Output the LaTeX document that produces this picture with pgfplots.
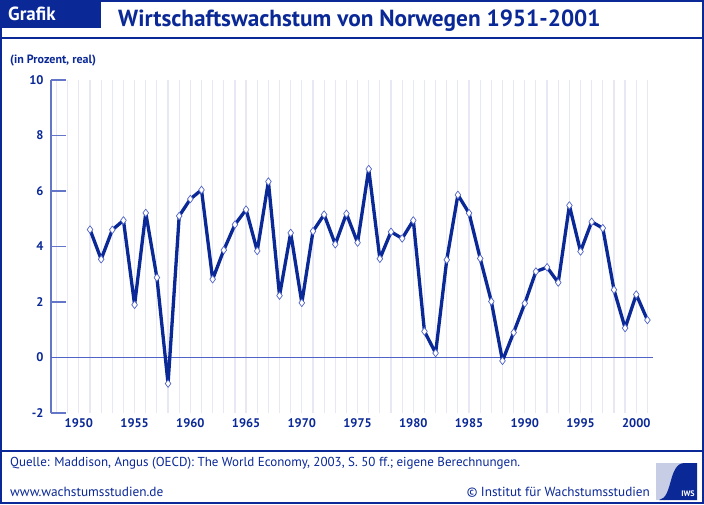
\documentclass[border=0pt]{standalone}
\usepackage{pgfplots}
\pgfplotsset{compat=1.18}
\usepackage{fontspec}
\setmainfont{PT Sans}
\definecolor{dblue}{RGB}{10,40,150}
\definecolor{axblue}{RGB}{100,118,200}
\definecolor{gridc}{RGB}{232,232,245}
\definecolor{zeroc}{RGB}{80,100,200}
\definecolor{logobg}{RGB}{200,205,230}
\begin{document}
\begin{tikzpicture}[x=1pt,y=1pt]
\path[use as bounding box] (0,0) rectangle (704,504);
\fill[white] (0,0) rectangle (704,504);
\begin{axis}[at={(51pt,91pt)}, anchor=south west, scale only axis,
  width=602pt, height=333pt,
  xmin=1947.5, xmax=2001.5, ymin=-2, ymax=10,
  axis x line=bottom, axis y line=left,
  x axis line style={draw=none},
  y axis line style={-, draw=axblue, line width=1.6pt},
  xtick={1950,1955,...,2000},
  minor xtick={1948,...,2001},
  xmajorgrids, xminorgrids,
  major grid style={draw=gridc, line width=1.2pt},
  minor grid style={draw=gridc, line width=1.2pt},
  xtick style={draw=none},
  ytick={-2,0,2,4,6,8,10},
  ytick style={draw=axblue, line width=1.6pt},
  major tick length=15pt,
  tick align=inside,
  /pgf/number format/assume math mode=true,
  /pgf/number format/set thousands separator={},
  ticklabel style={font=\bfseries\fontsize{12.5}{12.5}\selectfont, text=dblue},
  yticklabel style={xshift=-4pt},
  xticklabel style={yshift=-2pt},
  clip=false,
]
\draw[zeroc, line width=1.5pt] (axis cs:1947.5,0) -- (axis cs:2001.5,0);
\addplot[dblue, line width=3.3pt, line join=round,
  mark=diamond*, mark size=3.8pt,
  mark options={fill=white, draw=zeroc, line width=0.7pt, solid}]
  table {
x y
1951 4.61
1952 3.54
1953 4.60
1954 4.94
1955 1.90
1956 5.21
1957 2.88
1958 -0.94
1959 5.10
1960 5.71
1961 6.04
1962 2.82
1963 3.87
1964 4.79
1965 5.33
1966 3.84
1967 6.34
1968 2.23
1969 4.49
1970 1.97
1971 4.55
1972 5.15
1973 4.08
1974 5.18
1975 4.14
1976 6.79
1977 3.56
1978 4.53
1979 4.29
1980 4.94
1981 0.94
1982 0.16
1983 3.52
1984 5.86
1985 5.20
1986 3.57
1987 2.02
1988 -0.12
1989 0.90
1990 1.95
1991 3.10
1992 3.25
1993 2.70
1994 5.48
1995 3.82
1996 4.89
1997 4.66
1998 2.44
1999 1.06
2000 2.27
2001 1.35
};
\end{axis}
% header
\fill[dblue] (0,476) rectangle (101,504);
\node[anchor=base west, inner sep=0, text=white, font=\bfseries\fontsize{19}{19}\selectfont] at (8,483) {Grafik};
\node[anchor=base west, inner sep=0, text=dblue, font=\bfseries\fontsize{23.3}{23.3}\selectfont] at (118,477) {Wirtschaftswachstum von Norwegen 1951-2001};
\draw[dblue, line width=1.5pt] (0,466) -- (704,466);
\node[anchor=base west, inner sep=0, text=dblue, font=\bfseries\fontsize{12}{12}\selectfont] at (10,440) {(in Prozent, real)};
% footer
\draw[dblue, line width=1.5pt] (0,53) -- (704,53);
\node[anchor=base west, inner sep=0, text=dblue, font=\fontsize{13}{13}\selectfont] at (10,38) {Quelle: Maddison, Angus (OECD): The World Economy, 2003, S. 50 ff.; eigene Berechnungen.};
\node[anchor=base west, inner sep=0, text=dblue, font=\fontsize{13.3}{13.3}\selectfont] at (10,8) {www.wachstumsstudien.de};
\node[anchor=base east, inner sep=0, text=dblue, font=\fontsize{13.2}{13.2}\selectfont] at (650,8) {\textcopyright\ Institut für Wachstumsstudien};
% logo
\fill[logobg] (656,4) rectangle (697,41);
\fill[dblue] (659,4) .. controls (673,6) and (668,40) .. (684,41) -- (697,41) -- (697,4) -- cycle;
\node[anchor=base, inner sep=0, text=white, font=\bfseries\fontsize{8}{8}\selectfont] at (688,8) {IWS};
% frame
\draw[dblue, line width=2pt] (1,1) rectangle (703,503);
\end{tikzpicture}
\end{document}
